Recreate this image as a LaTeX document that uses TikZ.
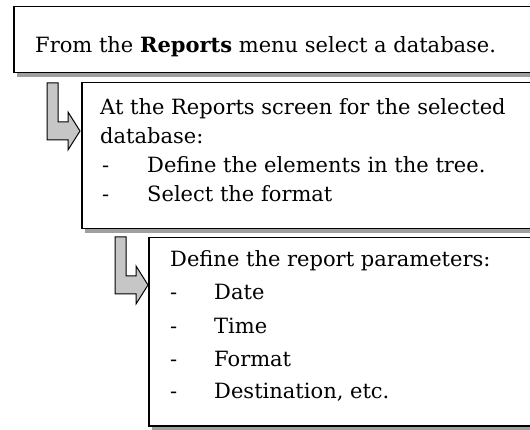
\documentclass[tikz,border=0pt]{standalone}
\usepackage{fontspec}
\setmainfont{DejaVu Serif}
\usetikzlibrary{shadows}
\tikzset{
  panel/.style={draw, line width=1.5pt, fill=white, anchor=north west, inner sep=0pt,
    drop shadow={shadow xshift=3pt, shadow yshift=-4pt, fill=gray!75, opacity=1}},
  txt/.style={anchor=base west, inner sep=0pt, font=\fontsize{21}{25}\selectfont},
  turn/.style={draw, line width=1pt, fill=gray!45, line join=miter},
}
\begin{document}
\begin{tikzpicture}[x=1pt, y=-1pt]
\useasboundingbox (0,0) rectangle (530,430);
% boxes
\node[panel, minimum width=540pt, minimum height=66pt] (box1) at (13,6) {};
\node[panel, minimum width=480pt, minimum height=146pt] (box2) at (81,82) {};
\node[panel, minimum width=420pt, minimum height=188pt] (box3) at (148,237) {};
% bent arrows
\draw[turn] (47,83) -- (58,83) -- (58,122) -- (68,122) -- (68,112) -- (80,131) -- (68,150) -- (68,140) -- (47,140) -- cycle;
\draw[turn, shift={(68,154)}] (47,83) -- (58,83) -- (58,122) -- (68,122) -- (68,112) -- (80,131) -- (68,150) -- (68,140) -- (47,140) -- cycle;
% text
\node[txt] (t1) at (35,53) {From the \textbf{Reports} menu select a database.};
\node[txt] (a1) at (100,115) {At the Reports screen for the selected};
\node[txt] (a2) at (100,144) {database:};
\node[txt] (a3) at (102,173) {-};
\node[txt] (a3t) at (147,173) {Define the elements in the tree.};
\node[txt] (a4) at (102,202) {-};
\node[txt] (a4t) at (147,202) {Select the format};
\node[txt] (b1) at (170,267) {Define the report parameters:};
\node[txt] (b2) at (170,300) {-};
\node[txt] (b2t) at (214,300) {Date};
\node[txt] (b3) at (170,333) {-};
\node[txt] (b3t) at (214,333) {Time};
\node[txt] (b4) at (170,366) {-};
\node[txt] (b4t) at (214,366) {Format};
\node[txt] (b5) at (170,398) {-};
\node[txt] (b5t) at (214,398) {Destination, etc.};
\end{tikzpicture}
\end{document}
